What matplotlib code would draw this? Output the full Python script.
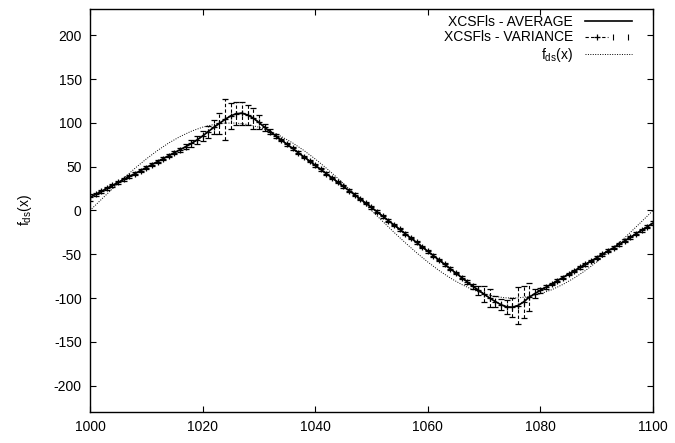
import matplotlib
matplotlib.use("Agg")
import matplotlib.pyplot as plt
from matplotlib.lines import Line2D
from matplotlib.legend_handler import HandlerLine2D, HandlerTuple
import numpy as np

plt.rcParams['font.family'] = ['Liberation Sans', 'DejaVu Sans']
plt.rcParams['font.size'] = 10
plt.rcParams['axes.unicode_minus'] = False

# average prediction, one point per x from 1000 to 1100
x_avg = np.arange(1000, 1101)
avg = [15, 18.4, 21.8, 25.2, 28.6, 32, 35.4, 38.8, 42.2, 45.6,
       49, 52.4, 55.8, 59.2, 62.6, 66, 69.4, 72.8, 76.5, 80.5,
       85, 90, 95, 99.5, 104, 108, 110.5, 111, 109, 105.5,
       100.5, 95, 90, 85.2, 80.4, 75.6, 70.8, 66, 61.2, 56.4,
       51.6, 46.8, 42, 37.2, 32.4, 27.6, 22.8, 18, 13.2, 8.4,
       3.5, -1.5, -6.5, -11.5, -16.5, -21.5, -26.5, -31.5, -36.5, -41.5,
       -46.5, -51.5, -56.5, -61.5, -66.5, -71.5, -76.5, -81.5, -86.5, -91,
       -95.5, -100, -104, -107.5, -110, -110.5, -108.5, -104.5, -99, -95,
       -91, -87.5, -84, -80, -76.5, -72.5, -69, -65, -61.5, -57.5,
       -54, -50, -46, -42.5, -38.5, -34.5, -30.5, -26.5, -22.5, -18.5,
       -14.5]

# spread of the runs (half length of the error bars)
spread = [4, 2, 1.5, 1.5, 1.5, 1.5, 1.5, 1.5, 1.5, 1.5,
          1.5, 1.5, 1.5, 1.5, 2, 2, 2.5, 3, 4, 5,
          6, 7, 8, 12, 23, 15, 13, 13, 11, 12,
          8, 4, 3, 2, 1.5, 1.5, 1.5, 1.5, 1.5, 1.5,
          1.5, 1.5, 1.5, 1.5, 1.5, 1.5, 1.5, 1.5, 1.5, 1.5,
          1.5, 1.5, 1.5, 1.5, 1.5, 1.5, 1.5, 1.5, 1.5, 1.5,
          1.5, 1.5, 1.5, 1.5, 1.5, 1.5, 2, 2.5, 3, 5,
          9, 10, 6, 6, 8, 11, 21, 18, 16, 5,
          3, 2, 1.5, 1.5, 1.5, 1.5, 1.5, 1.5, 1.5, 1.5,
          1.5, 1.5, 1.5, 1.5, 1.5, 1.5, 1.5, 1.5, 1.5, 1.5,
          2]

# target function, every 2 units
x_f = np.arange(1000, 1101, 2)
f_ds = [0, 12.5, 24.9, 36.8, 48.2, 58.8, 68.5, 77.1, 84.4, 90.5,
        95.1, 98.2, 99.8, 99.8, 98.2, 95.1, 90.5, 84.4, 77.1, 68.5,
        58.8, 48.2, 36.8, 24.9, 12.5, 0, -12.5, -24.9, -36.8, -48.2,
        -58.8, -68.5, -77.1, -84.4, -90.5, -95.1, -98.2, -99.8, -99.8, -98.2,
        -95.1, -90.5, -84.4, -77.1, -68.5, -58.8, -48.2, -36.8, -24.9, -12.5,
        0]

dash = (0, (3, 2))

fig = plt.figure(figsize=(6.75, 4.43), dpi=100)
ax = fig.add_axes([0.1333, 0.070, 0.8341, 0.9097])

h_avg, = ax.plot(x_avg, avg, color="black", lw=1.2)
eb = ax.errorbar(x_avg, avg, yerr=spread, color="black", lw=0.8, ls=dash,
                 marker="+", ms=5, mew=0.9, capsize=2, elinewidth=0.8)
for c in eb[2]:
    c.set_linestyle(dash)
h_f, = ax.plot(x_f, f_ds, color="black", lw=0.7, ls=(0, (1, 1.5)))

ax.set_xlim(1000, 1100)
ax.set_ylim(-230, 230)
ax.set_xticks(np.arange(1000, 1101, 20))
ax.set_yticks(np.arange(-200, 201, 50))
ax.tick_params(direction="in", length=4.5, width=0.8, top=True, right=True, labelsize=10, pad=6)
for s in ax.spines.values():
    s.set_linewidth(1.0)
ax.set_ylabel(r"$\mathregular{f_{ds}(x)}$", labelpad=14)

# legend sample for the variance: dashed line, + in the middle, small bars at the ends
var_line = Line2D([], [], color="black", lw=0.8, ls=dash, marker="+", ms=5, mew=0.9)
var_ends = Line2D([], [], color="black", ls="none", marker="|", ms=4, mew=0.8)
ax.legend([h_avg, (var_line, var_ends), h_f],
          ["XCSFls - AVERAGE", "XCSFls - VARIANCE", r"$\mathregular{f_{ds}(x)}$"],
          handler_map={var_ends: HandlerLine2D(numpoints=2),
                       var_line: HandlerLine2D(numpoints=1),
                       tuple: HandlerTuple(ndivide=None, pad=0)},
          loc="upper right", bbox_to_anchor=(0.9627, 0.985), frameon=False,
          markerfirst=False, handlelength=3.4, handletextpad=0.85,
          borderpad=0, borderaxespad=0, labelspacing=0.1, fontsize=10)

fig.savefig("out.png", dpi=100)
